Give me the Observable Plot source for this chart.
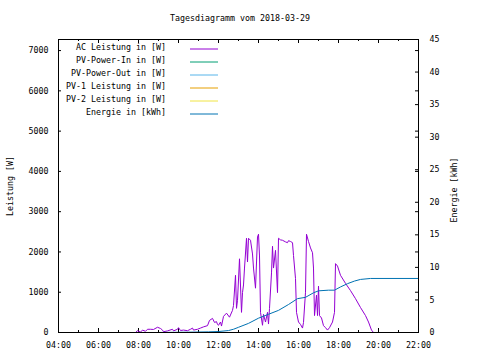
<!DOCTYPE html>
<html>
<head>
<meta charset="utf-8">
<script src="https://cdn.jsdelivr.net/npm/d3@7"></script>
<script src="https://cdn.jsdelivr.net/npm/@observablehq/plot@0.6"></script>
<style>
html,body{margin:0;padding:0;background:#fff;}
svg{display:block;}
</style>
</head>
<body>
<div id="chart"></div>
<script>
const titleText = "Tagesdiagramm vom 2018-03-29";
const seriesNames = ["AC Leistung in [W]", "PV-Power-In in [W]", "PV-Power-Out in [W]", "PV-1 Leistung in [W]", "PV-2 Leistung in [W]", "Energie in [kWh]"];
const seriesColors = ["#9400d3", "#009e73", "#56b4e9", "#e69f00", "#f0e442", "#0072b2"];
const hourTicks = [4, 6, 8, 10, 12, 14, 16, 18, 20, 22];
const hourMinor = [5, 7, 9, 11, 13, 15, 17, 19, 21];
const powerTicks = [0, 1000, 2000, 3000, 4000, 5000, 6000, 7000];
const energyTicks = [0, 5, 10, 15, 20, 25, 30, 35, 40, 45];

// AC Leistung (W) vs time of day (hours)
const acTime = [7.6,7.8,7.85,7.95,8.1,8.2,8.35,8.45,8.6,8.75,8.95,9.1,9.2,9.25,9.45,9.7,9.75,9.95,10.0,10.1,10.25,10.45,10.6,10.7,10.75,10.95,11.1,11.25,11.45,11.55,11.7,11.8,11.9,11.95,12.0,12.1,12.15,12.25,12.4,12.55,12.7,12.75,12.85,12.9,12.95,13.05,13.15,13.2,13.25,13.3,13.4,13.45,13.5,13.6,13.7,13.75,13.85,13.95,14.0,14.05,14.1,14.2,14.25,14.35,14.45,14.5,14.55,14.65,14.7,14.75,14.85,14.95,15.0,15.1,15.2,15.35,15.45,15.5,15.6,15.7,15.75,15.85,15.9,16.0,16.1,16.2,16.25,16.35,16.4,16.5,16.6,16.7,16.75,16.8,16.9,16.95,17.0,17.05,17.15,17.25,17.35,17.45,17.55,17.7,17.8,17.85,17.95,18.1,18.35,18.6,18.85,19.1,19.35,19.5,19.65,19.75];
const acPower = [0,0,0,45,10,60,30,80,80,75,130,100,60,20,40,80,40,80,120,50,60,45,80,110,60,80,110,140,170,300,350,250,270,200,180,260,160,400,480,380,550,670,1420,600,800,1830,500,990,1180,1600,2340,1750,2340,2290,1950,1600,1100,2370,2440,1900,500,180,450,260,500,210,600,1480,2140,1600,2040,990,2340,2300,2290,2250,2230,2280,2260,2230,1910,1340,500,260,200,110,250,1000,2440,2260,2100,1980,1600,420,930,420,1150,420,360,170,120,60,120,260,500,1710,1650,1420,1220,1040,840,620,420,260,60,0];

// Energie (kWh) vs time of day (hours)
const enTime = [8.95,10.5,11.5,12.0,12.5,12.75,13.0,13.5,14.0,14.5,15.0,15.5,15.95,16.35,16.75,17.0,17.5,17.8,18.1,18.45,18.8,19.1,19.6,22.0];
const enKwh = [0,0.05,0.1,0.15,0.3,0.5,0.8,1.4,2.2,2.8,3.4,4.3,5.2,5.4,6.1,6.4,6.5,6.5,7.0,7.5,7.9,8.15,8.3,8.3];

const yMax = 7275, eMax = 45;
const k = yMax / eMax; // maps kWh onto the power scale (secondary axis)

const acData = acTime.map((t, i) => ({t, w: acPower[i]}));
const enData = enTime.map((t, i) => ({t, e: enKwh[i]}));

const W = 480, H = 360, mL = 58, mR = 62, mT = 39, mB = 28;
const fw = W - mL - mR, fh = H - mT - mB;
const font = "DejaVu Sans Mono";
const fmtH = d => String(d).padStart(2, "0") + ":00";

const plot = Plot.plot({
  width: W, height: H,
  marginLeft: mL, marginRight: mR, marginTop: mT, marginBottom: mB,
  style: {fontFamily: font, fontSize: "8.3px", color: "#000", background: "#fff"},
  x: {domain: [4, 22]},
  y: {domain: [0, yMax]},
  marks: [
    Plot.axisX(hourTicks, {anchor: "bottom", tickSize: 0, tickPadding: 10, tickFormat: fmtH, label: null}),
    Plot.axisY(powerTicks, {anchor: "left", tickSize: 0, tickPadding: 10, tickFormat: d => String(d), label: null}),
    Plot.axisY(energyTicks.map(e => e * k), {anchor: "right", tickSize: 0, tickPadding: 11, tickFormat: d => String(Math.round(d / k)), label: null, textAnchor: "start"}),
    // inward tick marks
    Plot.tickX(hourTicks, {x: d => d, insetTop: fh - 4, stroke: "#000"}),
    Plot.tickX(hourMinor, {x: d => d, insetTop: fh - 2, stroke: "#000"}),
    Plot.tickX(hourTicks, {x: d => d, insetBottom: fh - 4, stroke: "#000"}),
    Plot.tickX(hourMinor, {x: d => d, insetBottom: fh - 2, stroke: "#000"}),
    Plot.tickY(powerTicks, {y: d => d, insetRight: fw - 3, stroke: "#000"}),
    Plot.tickY(powerTicks, {y: d => d, insetLeft: fw - 3, stroke: "#000"}),
    Plot.tickY(energyTicks, {y: d => d * k, insetLeft: fw - 3, stroke: "#000"}),
    Plot.line(acData, {x: "t", y: "w", stroke: seriesColors[0], strokeWidth: 1}),
    Plot.line(enData, {x: "t", y: d => d.e * k, stroke: seriesColors[5], strokeWidth: 1}),
    Plot.frame({stroke: "#000", strokeWidth: 1})
  ]
});

const svg = d3.select(plot);
svg.append("text").attr("x", 240).attr("y", 18).attr("text-anchor", "middle")
  .attr("dominant-baseline", "middle").attr("font-family", font).attr("font-size", "8.3px")
  .text(titleText);
svg.append("text").attr("transform", "translate(10,186) rotate(-90)").attr("text-anchor", "middle")
  .attr("dominant-baseline", "middle").attr("font-family", font).attr("font-size", "8.3px")
  .text("Leistung [W]");
svg.append("text").attr("transform", "translate(454,190) rotate(-90)").attr("text-anchor", "middle")
  .attr("dominant-baseline", "middle").attr("font-family", font).attr("font-size", "8.3px")
  .text("Energie [kWh]");

const leg = svg.append("g").attr("font-family", font).attr("font-size", "8.3px");
seriesNames.forEach((name, i) => {
  const y = 49 + i * 13;
  leg.append("text").attr("x", 166).attr("y", y - 2).attr("text-anchor", "end")
    .attr("dominant-baseline", "middle").text(name);
  leg.append("line").attr("x1", 190).attr("x2", 218).attr("y1", y).attr("y2", y)
    .attr("stroke", seriesColors[i]).attr("stroke-width", 1);
});

document.getElementById("chart").appendChild(plot);
</script>
</body>
</html>
